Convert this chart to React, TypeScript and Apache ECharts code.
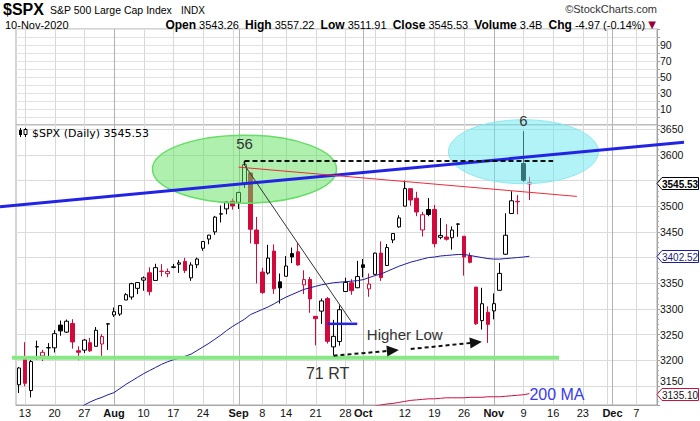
import React, { useEffect, useRef } from 'react';
import * as echarts from 'echarts';

const FONT = '"Liberation Sans", Arial, sans-serif';

// ---------- calendar ----------
const FIRST_DAY = '2020-07-10';
const LAST_DAY = '2020-12-10';
const HOLIDAYS = ['2020-09-07', '2020-11-26'];

// ---------- daily OHLC, 10-Jul-2020 .. 10-Nov-2020 ----------
const PREV_CLOSE = 3152.05; // close of 9-Jul-2020 (colours the first candle)
const opens = [
  3152.47,
  3205.08, 3141.11, 3225.98, 3208.36, 3224.21,
  3224.29, 3268.52, 3254.86, 3271.64, 3218.58,
  3219.84, 3234.27, 3227.22, 3231.76, 3270.45,
  3288.26, 3289.92, 3317.37, 3323.17, 3340.05,
  3356.04, 3370.34, 3355.46, 3372.95, 3368.66,
  3380.86, 3387.04, 3392.51, 3360.48, 3386.01,
  3418.09, 3435.95, 3449.97, 3485.14, 3494.69,
  3509.73, 3507.44, 3543.76, 3564.74, 3453.6,
  3371.88, 3369.82, 3412.56, 3352.7,
  3363.56, 3407.73, 3411.23, 3346.86, 3357.38,
  3285.57, 3295.75, 3320.11, 3226.14, 3236.66,
  3333.9, 3350.92, 3341.21, 3385.87, 3338.94,
  3367.27, 3408.74, 3384.56, 3434.28, 3459.67,
  3500.02, 3534.01, 3515.47, 3453.72, 3493.5,
  3493.66, 3439.38, 3439.91, 3438.5, 3464.9,
  3441.42, 3403.15, 3342.48, 3277.17, 3293.59,
  3296.2, 3336.25, 3406.46, 3485.74, 3508.34,
  3583.04, 3543.26,
];
const highs = [
  3186.82,
  3235.32, 3200.95, 3238.28, 3220.39, 3233.52,
  3258.61, 3277.29, 3279.32, 3279.99, 3227.26,
  3241.43, 3243.72, 3264.74, 3250.92, 3272.17,
  3302.73, 3306.84, 3330.77, 3351.03, 3352.54,
  3363.29, 3381.01, 3387.89, 3387.24, 3378.51,
  3387.59, 3395.06, 3399.54, 3390.8, 3399.96,
  3432.09, 3444.21, 3481.07, 3501.38, 3509.23,
  3514.77, 3528.03, 3588.11, 3564.85, 3479.15,
  3379.97, 3424.77, 3425.55, 3368.95,
  3402.93, 3419.48, 3428.92, 3375.17, 3362.27,
  3285.57, 3320.31, 3323.35, 3278.7, 3306.88,
  3360.74, 3357.92, 3393.56, 3397.18, 3369.1,
  3409.57, 3431.56, 3426.26, 3447.28, 3482.34,
  3549.85, 3534.01, 3527.94, 3489.08, 3515.76,
  3502.42, 3476.93, 3464.86, 3460.53, 3466.46,
  3441.42, 3409.51, 3342.48, 3341.05, 3304.93,
  3330.14, 3389.49, 3486.25, 3529.05, 3521.58,
  3645.99, 3557.22,
];
const lows = [
  3136.22,
  3149.43, 3127.66, 3200.76, 3198.59, 3205.65,
  3215.16, 3247.77, 3253.1, 3222.66, 3200.05,
  3214.25, 3216.17, 3227.22, 3204.13, 3220.26,
  3284.53, 3286.37, 3317.37, 3318.14, 3328.72,
  3335.44, 3326.44, 3355.46, 3363.35, 3361.64,
  3379.22, 3370.15, 3369.66, 3354.69, 3379.31,
  3413.13, 3425.84, 3444.15, 3468.35, 3484.32,
  3493.25, 3494.6, 3535.23, 3427.41, 3349.63,
  3329.27, 3366.84, 3329.25, 3310.47,
  3363.56, 3389.25, 3384.45, 3328.82, 3292.4,
  3229.1, 3270.95, 3232.57, 3209.45, 3228.44,
  3332.91, 3327.54, 3340.47, 3361.39, 3323.69,
  3367.27, 3354.54, 3384.56, 3428.15, 3458.07,
  3499.61, 3500.86, 3480.55, 3440.89, 3480.45,
  3419.93, 3435.65, 3433.06, 3415.34, 3440.45,
  3364.86, 3388.71, 3268.89, 3259.82, 3233.94,
  3279.74, 3336.25, 3405.17, 3485.74, 3484.34,
  3547.48, 3511.91,
];
const closes = [
  3185.04,
  3155.22, 3197.52, 3226.56, 3215.57, 3224.73,
  3251.84, 3257.3, 3276.02, 3235.66, 3215.63,
  3239.41, 3218.44, 3258.44, 3246.22, 3271.12,
  3294.61, 3306.51, 3327.77, 3349.16, 3351.28,
  3360.47, 3333.69, 3380.35, 3373.43, 3372.85,
  3381.99, 3389.78, 3374.85, 3385.51, 3397.16,
  3431.28, 3443.62, 3478.73, 3484.55, 3508.01,
  3500.31, 3526.65, 3580.84, 3455.06, 3426.96,
  3331.84, 3398.96, 3339.19, 3340.97,
  3383.54, 3401.2, 3385.49, 3357.01, 3319.47,
  3281.06, 3315.57, 3236.92, 3246.59, 3298.46,
  3351.6, 3335.47, 3363.0, 3380.8, 3348.42,
  3408.6, 3360.97, 3419.44, 3446.83, 3477.14,
  3534.22, 3511.93, 3488.67, 3483.34, 3483.81,
  3426.92, 3443.12, 3435.56, 3453.49, 3465.39,
  3400.97, 3390.68, 3271.03, 3310.11, 3269.96,
  3310.24, 3369.16, 3443.44, 3510.45, 3509.44,
  3550.5, 3545.53,
];
const VOLUME = '3.4B';

// ---------- moving averages ----------
const ma50Start = '2020-07-24';
const ma50 = [
  3105, 3113, 3119, 3124, 3128, 3133, 3137, 3145, 3153, 3160,
  3167, 3174, 3180, 3186, 3192, 3197, 3201, 3204, 3208, 3212,
  3219, 3226, 3233, 3241, 3249, 3258, 3266, 3273, 3280, 3289,
  3294, 3299, 3304, 3310, 3317, 3323, 3328, 3333, 3338, 3341,
  3344, 3347, 3349, 3351, 3352, 3353, 3354, 3355, 3357, 3361,
  3365, 3368, 3373, 3378, 3383, 3387, 3391, 3394, 3397, 3400,
  3401, 3403, 3404, 3405, 3406, 3406, 3404, 3402, 3400, 3398,
  3397, 3397, 3398, 3399, 3400, 3401, 3402.52,
];
const ma200Start = '2020-10-02';
const ma200 = [
  3108, 3111, 3113, 3115, 3116, 3118, 3120, 3122, 3123, 3124,
  3125, 3125, 3126, 3127, 3127, 3127, 3127, 3128, 3128, 3128,
  3129, 3129, 3129, 3130, 3131, 3132, 3133, 3135.1,
];

// ---------- axis labels ----------
const xTickLabels: [string, string][] = [
  ['2020-07-13', '13'], ['2020-07-20', '20'], ['2020-07-27', '27'], ['2020-08-03', 'Aug'],
  ['2020-08-10', '10'], ['2020-08-17', '17'], ['2020-08-24', '24'], ['2020-09-01', 'Sep'],
  ['2020-09-08', '8'], ['2020-09-14', '14'], ['2020-09-21', '21'], ['2020-09-28', '28'],
  ['2020-10-01', 'Oct'], ['2020-10-12', '12'], ['2020-10-19', '19'], ['2020-10-26', '26'],
  ['2020-11-02', 'Nov'], ['2020-11-09', '9'], ['2020-11-16', '16'], ['2020-11-23', '23'],
  ['2020-12-01', 'Dec'], ['2020-12-07', '7'],
];
const monthNames = ['Aug', 'Sep', 'Oct', 'Nov', 'Dec'];
const upperTicks = [10, 30, 50, 70, 90];
const PRICE_STEP = 50;

// ---------- annotations (date, price) ----------
const blueTrend: [string, number][] = [['2020-08-19', 3533], ['2020-11-09', 3595]];
const redTrend: [string, number][] = [['2020-09-01', 3576], ['2020-11-20', 3519]];
const topDashed: [string, number][] = [['2020-09-02', 3588], ['2020-11-16', 3588]];
const dropLine: [string, number][] = [['2020-09-02', 3580], ['2020-09-29', 3275]];
const blueMark: [string, number][] = [['2020-09-23', 3271], ['2020-09-30', 3271]];
const arrowA: [string, number][] = [['2020-09-24', 3209], ['2020-10-09', 3220]];
const arrowB: [string, number][] = [['2020-10-13', 3222], ['2020-10-29', 3236]];
const supportLevel = 3205;
const supportEnd = '2020-11-17';
const greenZone: [string, number] = ['2020-09-02', 3572];
const cyanZone: [string, number] = ['2020-11-09', 3606];
const notes: { text: string; at: [string, number] }[] = [
  { text: '56', at: ['2020-09-02', 3622] },
  { text: '6', at: ['2020-11-09', 3666] },
  { text: '71 RT', at: ['2020-09-23', 3175] },
  { text: 'Higher Low', at: ['2020-10-12', 3250] },
];
const maLabel: { text: string; at: [string, number] } = { text: '200 MA', at: ['2020-11-10', 3133] };

// ---------- helpers ----------
function buildDays(): string[] {
  const out: string[] = [];
  const d = new Date(FIRST_DAY + 'T00:00:00Z');
  const end = Date.parse(LAST_DAY + 'T00:00:00Z');
  while (d.getTime() <= end) {
    const s = d.toISOString().slice(0, 10);
    const dow = d.getUTCDay();
    if (dow !== 0 && dow !== 6 && HOLIDAYS.indexOf(s) < 0) out.push(s);
    d.setUTCDate(d.getUTCDate() + 1);
  }
  return out;
}

const cats = buildDays();
const dow = (s: string) => new Date(s + 'T00:00:00Z').getUTCDay();
const weekStarts: number[] = [];
const monthStarts: number[] = [];
cats.forEach((d, i) => {
  if (i === 0) return;
  const p = cats[i - 1];
  if (dow(d) < dow(p)) weekStarts.push(i);
  if (d.slice(5, 7) !== p.slice(5, 7)) monthStarts.push(i);
});
const labelMap: Record<string, string> = {};
xTickLabels.forEach(([d, t]) => (labelMap[d] = t));

function padSeries(start: string, vals: number[]) {
  const off = cats.indexOf(start);
  const out: (number | null)[] = cats.map(() => null);
  vals.forEach((v, i) => (out[off + i] = v));
  return out;
}

const LAST = closes.length - 1;
const tagValues = [closes[LAST], ma50[ma50.length - 1], ma200[ma200.length - 1]];

const RED = '#d20a3c';
const candleData = opens.map((o, i) => {
  const c = closes[i];
  const prev = i === 0 ? PREV_CLOSE : closes[i - 1];
  const stroke = c < prev ? RED : '#000000';
  const fill = c >= o ? '#ffffff' : stroke;
  return {
    value: [o, c, lows[i], highs[i]],
    itemStyle: {
      color: fill, color0: fill, borderColor: stroke, borderColor0: stroke,
      borderColorDoji: stroke, borderWidth: 1,
    },
  };
});

function gridSeries(axisIdx: number, midVal: number) {
  const data = weekStarts.map((i) => [i, midVal, 0]).concat(monthStarts.map((i) => [i, midVal, 1]));
  return {
    type: 'custom',
    xAxisIndex: axisIdx,
    yAxisIndex: axisIdx,
    silent: true,
    z: 0,
    clip: false,
    encode: { x: 0, y: 1 },
    data,
    renderItem: (params: any, api: any) => {
      const cs = params.coordSys;
      const x = Math.round(api.coord([api.value(0), api.value(1)])[0]) + 0.5;
      return {
        type: 'line',
        shape: { x1: x, y1: cs.y, x2: x, y2: cs.y + cs.height },
        style: { stroke: api.value(2) ? '#b2b2b2' : '#d9d9d9', lineWidth: 1 },
      };
    },
  };
}

function priceLabel(v: number) {
  if (v % PRICE_STEP !== 0) return '';
  const d = Math.min(...tagValues.map((t) => Math.abs(t - v)));
  if (d < 10) return '';
  if (d < 20) return (tagValues.some((t) => t < v) ? '{up|' : '{dn|') + v + '}';
  return String(v);
}

function buildOption() {
  const yLabel = { color: '#111', fontFamily: FONT, fontSize: 10.5, margin: 3 };
  return {
    animation: false,
    backgroundColor: '#ffffff',
    grid: [
      { left: 16, right: 43, top: 29, height: 96, show: true, borderColor: '#a8a8a8', borderWidth: 1, backgroundColor: 'transparent', outerBoundsMode: 'none', containLabel: false },
      { left: 16, right: 43, top: 125, height: 280, show: true, borderColor: '#a8a8a8', borderWidth: 1, backgroundColor: 'transparent', outerBoundsMode: 'none', containLabel: false },
    ],
    xAxis: [
      { type: 'category', gridIndex: 0, data: cats, boundaryGap: true, show: false },
      {
        type: 'category', gridIndex: 1, data: cats, boundaryGap: true,
        axisLine: { show: true, lineStyle: { color: '#a8a8a8' } },
        axisTick: { show: false },
        splitLine: { show: false },
        axisLabel: {
          interval: (_i: number, v: string) => labelMap[v] !== undefined,
          formatter: (v: string) => {
            const t = labelMap[v] || '';
            return monthNames.indexOf(t) >= 0 ? '{m|' + t + '}' : t;
          },
          color: '#111', fontFamily: FONT, fontSize: 11, margin: 2,
          rich: { m: { fontWeight: 'bold', fontFamily: FONT, fontSize: 11, color: '#111' } },
        },
      },
    ],
    yAxis: [
      {
        type: 'value', gridIndex: 0, position: 'right', min: -10, max: 110, interval: 10,
        axisLine: { show: true, lineStyle: { color: '#a0a0a0' } },
        axisTick: { show: true, length: 3, lineStyle: { color: '#a0a0a0' } },
        axisLabel: { ...yLabel, formatter: (v: number) => (upperTicks.indexOf(v) >= 0 ? String(v) : '') },
        splitLine: { show: true, lineStyle: { color: '#e3e3e3', width: 1 } },
      },
      {
        type: 'value', gridIndex: 1, position: 'right', min: 3113, max: 3658, splitNumber: 11, scale: true,
        axisLine: { show: true, lineStyle: { color: '#a0a0a0' } },
        axisTick: { show: true, length: 3, lineStyle: { color: '#a0a0a0' } },
        minorTick: { show: true, splitNumber: 5, length: 2, lineStyle: { color: '#b0b0b0' } },
        axisLabel: {
          ...yLabel,
          formatter: priceLabel,
          rich: {
            up: { fontFamily: FONT, fontSize: 10.5, color: '#111', padding: [0, 0, 9, 0] },
            dn: { fontFamily: FONT, fontSize: 10.5, color: '#111', padding: [9, 0, 0, 0] },
          },
        },
        splitLine: { show: true, lineStyle: { color: '#dcdcdc', width: 1 } },
      },
    ],
    series: [
      gridSeries(0, 50),
      gridSeries(1, 3400),
      {
        type: 'candlestick', xAxisIndex: 1, yAxisIndex: 1, barWidth: 4, z: 3, silent: true,
        data: candleData,
      },
      {
        type: 'line', xAxisIndex: 1, yAxisIndex: 1, data: padSeries(ma50Start, ma50), symbol: 'none',
        lineStyle: { color: '#1c1c9c', width: 1 }, z: 4, silent: true, connectNulls: false,
      },
      {
        type: 'line', xAxisIndex: 1, yAxisIndex: 1, data: padSeries(ma200Start, ma200), symbol: 'none',
        lineStyle: { color: '#cc1040', width: 1 }, z: 4, silent: true, connectNulls: false,
      },
    ],
  };
}

function buildGraphics(chart: any) {
  const P = (a: [string, number]) => chart.convertToPixel({ gridIndex: 1 }, a) as number[];
  const els: any[] = [];
  const line = (a: number[], b: number[], stroke: string, w: number, dash?: number[], z = 11) => ({
    type: 'line', silent: true, z,
    shape: { x1: a[0], y1: a[1], x2: b[0], y2: b[1] },
    style: { stroke, lineWidth: w, lineDash: dash || null, lineCap: 'butt' },
  });
  const text = (s: string, x: number, y: number, font: string, fill: string, align = 'center', z = 12) => ({
    type: 'text', silent: true, z,
    style: { text: s, x, y, font, fill, align, textAlign: align, verticalAlign: 'middle', textVerticalAlign: 'middle' },
  });

  // support line
  const s0 = P([cats[0], supportLevel]);
  const s1 = P([supportEnd, supportLevel]);
  els.push(line([s0[0] - 7, s0[1]], s1, '#86e986', 4, undefined, 9));

  // ellipses
  const g = P(greenZone);
  els.push({ type: 'ellipse', silent: true, z: 10, shape: { cx: g[0], cy: g[1], rx: 92, ry: 34 },
    style: { fill: 'rgba(96, 226, 96, 0.5)', stroke: '#66dd66', lineWidth: 1.5 } });
  const c = P(cyanZone);
  els.push({ type: 'ellipse', silent: true, z: 10, shape: { cx: c[0], cy: c[1], rx: 75, ry: 32 },
    style: { fill: 'rgba(100, 232, 240, 0.5)', stroke: '#8ee8f0', lineWidth: 1 } });

  // blue trend line extended across the picture
  const b0 = P(blueTrend[0]);
  const b1 = P(blueTrend[1]);
  const slope = (b1[1] - b0[1]) / (b1[0] - b0[0]);
  const yAt = (x: number) => b0[1] + (x - b0[0]) * slope;
  els.push(line([0, yAt(0)], [684, yAt(684)], '#2323e6', 3));

  els.push(line(P(redTrend[0]), P(redTrend[1]), '#ee2a3a', 1));
  els.push(line(P(topDashed[0]), P(topDashed[1]), '#111', 2, [5, 3]));
  const td = P(topDashed[0]);
  els.push(line([td[0], td[1]], [td[0], td[1] + 4], '#111', 1.5));
  els.push(line(P(dropLine[0]), P(dropLine[1]), '#333', 1));
  els.push(line(P(blueMark[0]), P(blueMark[1]), '#2323e6', 2.5));

  // dashed arrows
  for (const arr of [arrowA, arrowB]) {
    const a = P(arr[0]);
    const t = P(arr[1]);
    const dx = t[0] - a[0];
    const dy = t[1] - a[1];
    const len = Math.sqrt(dx * dx + dy * dy);
    const ux = dx / len;
    const uy = dy / len;
    const base = [t[0] - ux * 12, t[1] - uy * 12];
    els.push(line(a, base, '#111', 2, [4, 3]));
    els.push({ type: 'polygon', silent: true, z: 11,
      shape: { points: [t, [base[0] - uy * 5.5, base[1] + ux * 5.5], [base[0] + uy * 5.5, base[1] - ux * 5.5]] },
      style: { fill: '#111' } });
  }

  // notes
  notes.forEach((n) => {
    const p = P(n.at);
    const size = n.text === '71 RT' ? 16 : 15;
    els.push(text(n.text, p[0], p[1], size + 'px ' + FONT, '#333'));
  });
  const ml = P(maLabel.at);
  els.push(text(maLabel.text, ml[0], ml[1], '16px ' + FONT, '#3a3aee', 'left'));

  // price tags on the right axis
  const tagStyles: [string, string, boolean][] = [
    ['#000', '#000', true],
    ['#1c1c7c', '#1c1c9c', false],
    ['#111', '#cc1040', false],
  ];
  tagValues.forEach((v, k) => {
    const [tc, bc, bold] = tagStyles[k];
    const y = Math.round(P([cats[0], v])[1]) + 0.5;
    const x0 = 657;
    els.push({ type: 'polygon', silent: true, z: 12,
      shape: { points: [[x0, y], [x0 + 5, y - 6], [698.5, y - 6], [698.5, y + 6], [x0 + 5, y + 6]] },
      style: { fill: '#fff', stroke: bc, lineWidth: 1 } });
    els.push(text(v.toFixed(2), x0 + 5, y + 0.5, (bold ? 'bold ' : '') + '10px ' + FONT, tc, 'left', 13));
  });

  // header
  els.push(text('$SPX', 3, 9, 'bold 16px ' + FONT, '#000', 'left'));
  els.push(text('S&P 500 Large Cap Index', 50, 10, '10.5px ' + FONT, '#000', 'left'));
  els.push(text('INDX', 181, 10, '10px ' + FONT, '#000', 'left'));
  els.push(text('\u00A9StockCharts.com', 657, 9, '11px ' + FONT, '#333', 'right'));
  els.push(text('10-Nov-2020', 5, 25, '11px ' + FONT, '#000', 'left'));
  const prev = closes[LAST - 1];
  const chg = closes[LAST] - prev;
  const pct = (chg / prev) * 100;
  els.push({
    type: 'text', silent: true, z: 12,
    style: {
      text:
        '{b|Open} ' + opens[LAST].toFixed(2) + '  {b|High} ' + highs[LAST].toFixed(2) +
        '  {b|Low} ' + lows[LAST].toFixed(2) + '  {b|Close} ' + closes[LAST].toFixed(2) +
        '  {b|Volume} ' + VOLUME + '  {b|Chg} ' + chg.toFixed(2) + ' (' + pct.toFixed(2) + '%) {t|\u25BC}',
      x: 656, y: 24.5, align: 'right', textAlign: 'right', verticalAlign: 'middle', textVerticalAlign: 'middle',
      font: '11px ' + FONT, fill: '#000',
      rich: {
        b: { fontWeight: 'bold', fontSize: 12, fontFamily: FONT, fill: '#000' },
        t: { fontSize: 10, fontFamily: '"DejaVu Sans", sans-serif', fill: '#9a0036' },
      },
    },
  });

  // legend in the price panel
  els.push({ type: 'line', silent: true, z: 12, shape: { x1: 20.5, y1: 128, x2: 20.5, y2: 137 }, style: { stroke: '#000', lineWidth: 1 } });
  els.push({ type: 'rect', silent: true, z: 12, shape: { x: 19, y: 130, width: 3, height: 5 }, style: { fill: '#000' } });
  els.push({ type: 'line', silent: true, z: 12, shape: { x1: 25.5, y1: 128, x2: 25.5, y2: 137 }, style: { stroke: '#000', lineWidth: 1 } });
  els.push({ type: 'rect', silent: true, z: 12, shape: { x: 24, y: 129.5, width: 3, height: 5 }, style: { fill: '#fff', stroke: '#000', lineWidth: 1 } });
  els.push(text('$SPX (Daily) ' + closes[LAST].toFixed(2), 32, 133, '11px "DejaVu Sans", sans-serif', '#000', 'left'));

  return els;
}

export default function App() {
  const ref = useRef<HTMLDivElement>(null);
  useEffect(() => {
    document.body.style.margin = '0';
    const chart = echarts.init(ref.current as HTMLDivElement, null, { renderer: 'svg' });
    chart.setOption(buildOption() as any);
    chart.setOption({ graphic: buildGraphics(chart) } as any);
    return () => chart.dispose();
  }, []);
  return <div ref={ref} style={{ position: 'absolute', left: 0, top: 0, width: 700, height: 421 }} />;
}
